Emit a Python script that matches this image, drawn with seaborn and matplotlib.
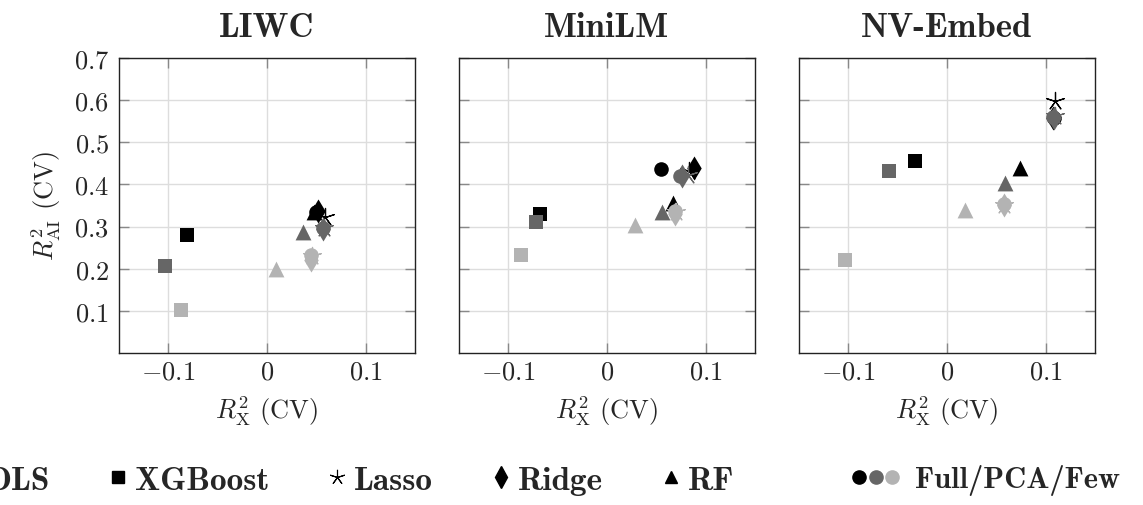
import pandas as pd
import matplotlib.pyplot as plt
import seaborn as sns
from matplotlib.lines import Line2D
from matplotlib.legend_handler import HandlerTuple

# embeddings / panels
panels = ["LIWC", "MiniLM", "NV-Embed"]
models = ["OLS", "XGBoost", "Lasso", "Ridge", "RF"]
feature_sets = ["Full", "PCA", "Few"]

# R2_X values, per panel, per model, order Full / PCA / Few
r2x_liwc = {
    "OLS": [0.050, 0.057, 0.045],
    "XGBoost": [-0.081, -0.103, -0.087],
    "Lasso": [0.059, 0.058, 0.046],
    "Ridge": [0.052, 0.057, 0.045],
    "RF": [0.048, 0.037, 0.009],
}
r2ai_liwc = {
    "OLS": [0.335, 0.297, 0.232],
    "XGBoost": [0.280, 0.206, 0.101],
    "Lasso": [0.323, 0.296, 0.230],
    "Ridge": [0.338, 0.294, 0.220],
    "RF": [0.335, 0.286, 0.199],
}
r2x_minilm = {
    "OLS": [0.055, 0.074, 0.069],
    "XGBoost": [-0.068, -0.072, -0.087],
    "Lasso": [0.083, 0.082, 0.070],
    "Ridge": [0.088, 0.076, 0.069],
    "RF": [0.067, 0.056, 0.028],
}
r2ai_minilm = {
    "OLS": [0.436, 0.421, 0.337],
    "XGBoost": [0.330, 0.310, 0.232],
    "Lasso": [0.432, 0.423, 0.335],
    "Ridge": [0.438, 0.420, 0.330],
    "RF": [0.357, 0.335, 0.304],
}
r2x_nvembed = {
    "OLS": [0.108, 0.107, 0.058],
    "XGBoost": [-0.032, -0.059, -0.103],
    "Lasso": [0.109, 0.109, 0.058],
    "Ridge": [0.107, 0.108, 0.058],
    "RF": [0.074, 0.059, 0.018],
}
r2ai_nvembed = {
    "OLS": [0.558, 0.559, 0.354],
    "XGBoost": [0.455, 0.431, 0.221],
    "Lasso": [0.598, 0.562, 0.352],
    "Ridge": [0.557, 0.558, 0.350],
    "RF": [0.438, 0.403, 0.340],
}

x_ticks = [-0.1, 0.0, 0.1]
x_tick_labels = ["$-0.1$", "$0$", "$0.1$"]
y_ticks = [0.1, 0.2, 0.3, 0.4, 0.5, 0.6, 0.7]
y_tick_labels = ["$0.1$", "$0.2$", "$0.3$", "$0.4$", "$0.5$", "$0.6$", "$0.7$"]

rows = []
for panel, xs, ys in zip(panels, [r2x_liwc, r2x_minilm, r2x_nvembed],
                         [r2ai_liwc, r2ai_minilm, r2ai_nvembed]):
    for m in models:
        for i, fs in enumerate(feature_sets):
            rows.append({"panel": panel, "model": m, "features": fs,
                         "r2x": xs[m][i], "r2ai": ys[m][i]})
df = pd.DataFrame(rows)

palette = {"Full": "#000000", "PCA": "#666666", "Few": "#b3b3b3"}
markers = {"OLS": "o", "XGBoost": "s", "Lasso": (5, 2, 0), "Ridge": "d", "RF": "^"}
sizes = {"OLS": 110, "XGBoost": 100, "Lasso": 170, "Ridge": 150, "RF": 130}

sns.set_style("ticks")
plt.rcParams["font.family"] = "cmr10"
plt.rcParams["mathtext.fontset"] = "cm"
plt.rcParams["axes.unicode_minus"] = False

fig, axes = plt.subplots(1, 3, figsize=(11.43, 5.06), dpi=100, sharey=True)
fig.subplots_adjust(left=0.1039, right=0.958, top=0.8834, bottom=0.3004, wspace=0.1485)

for ax, panel in zip(axes, panels):
    sub = df[df.panel == panel]
    for fs in feature_sets:
        for m in models:
            d = sub[(sub.model == m) & (sub.features == fs)]
            if m == "Lasso":
                sns.scatterplot(data=d, x="r2x", y="r2ai", ax=ax, marker=markers[m],
                                s=sizes[m], color=palette[fs], edgecolor=palette[fs],
                                linewidth=0.9, legend=False, zorder=3)
            else:
                sns.scatterplot(data=d, x="r2x", y="r2ai", ax=ax, marker=markers[m],
                                s=sizes[m], color=palette[fs], linewidth=0,
                                legend=False, zorder=3)
    ax.set_xlim(-0.15, 0.15)
    ax.set_ylim(0.0, 0.7)
    ax.set_xticks(x_ticks, x_tick_labels)
    ax.set_yticks(y_ticks, y_tick_labels)
    ax.grid(True, color="#dddddd", linewidth=1.0, zorder=0)
    ax.set_axisbelow(True)
    ax.tick_params(direction="in", length=7.5, width=1.0, color="#888888",
                   top=True, right=True, labelsize=19, pad=7)
    ax.tick_params(axis="x", pad=5)
    for sp in ax.spines.values():
        sp.set_color("#222222")
        sp.set_linewidth(1.0)
    ax.set_title(panel, fontfamily="cmb10", fontsize=25, pad=16)
    ax.set_xlabel(r"$R^2_{\mathrm{X}}$ (CV)", fontsize=19, labelpad=7)
    ax.set_ylabel("")
axes[0].set_ylabel(r"$R^2_{\mathrm{AI}}$ (CV)", fontsize=19, labelpad=8)
for ax in axes[1:]:
    ax.tick_params(labelleft=False)

# legend at bottom: models, then the shade key in its own wider slot
model_handles = [
    Line2D([], [], ls="", marker="o", color="black", markersize=9),
    Line2D([], [], ls="", marker="s", color="black", markersize=8.5),
    Line2D([], [], ls="", marker=(5, 2, 0), color="black", markersize=11, mew=0.8),
    Line2D([], [], ls="", marker="d", color="black", markersize=11),
    Line2D([], [], ls="", marker="^", color="black", markersize=9),
]
leg_y = 1 - 481 / 506
fig.legend(model_handles, models, loc="center right", bbox_to_anchor=(751 / 1143, leg_y),
           ncol=5, frameon=False, prop={"family": "cmb10", "size": 24},
           handlelength=0.6, handletextpad=0.2, columnspacing=1.75, borderpad=0)
shade_handle = tuple(Line2D([], [], ls="", marker="o", color=palette[fs], markersize=9.5)
                     for fs in feature_sets)
fig.legend([shade_handle], ["/".join(feature_sets)], loc="center left",
           bbox_to_anchor=(836 / 1143, leg_y), frameon=False,
           prop={"family": "cmb10", "size": 22},
           handler_map={tuple: HandlerTuple(ndivide=None, pad=0.0)},
           handlelength=1.6, handletextpad=0.5, borderpad=0)

fig.savefig("out.png", dpi=100)
